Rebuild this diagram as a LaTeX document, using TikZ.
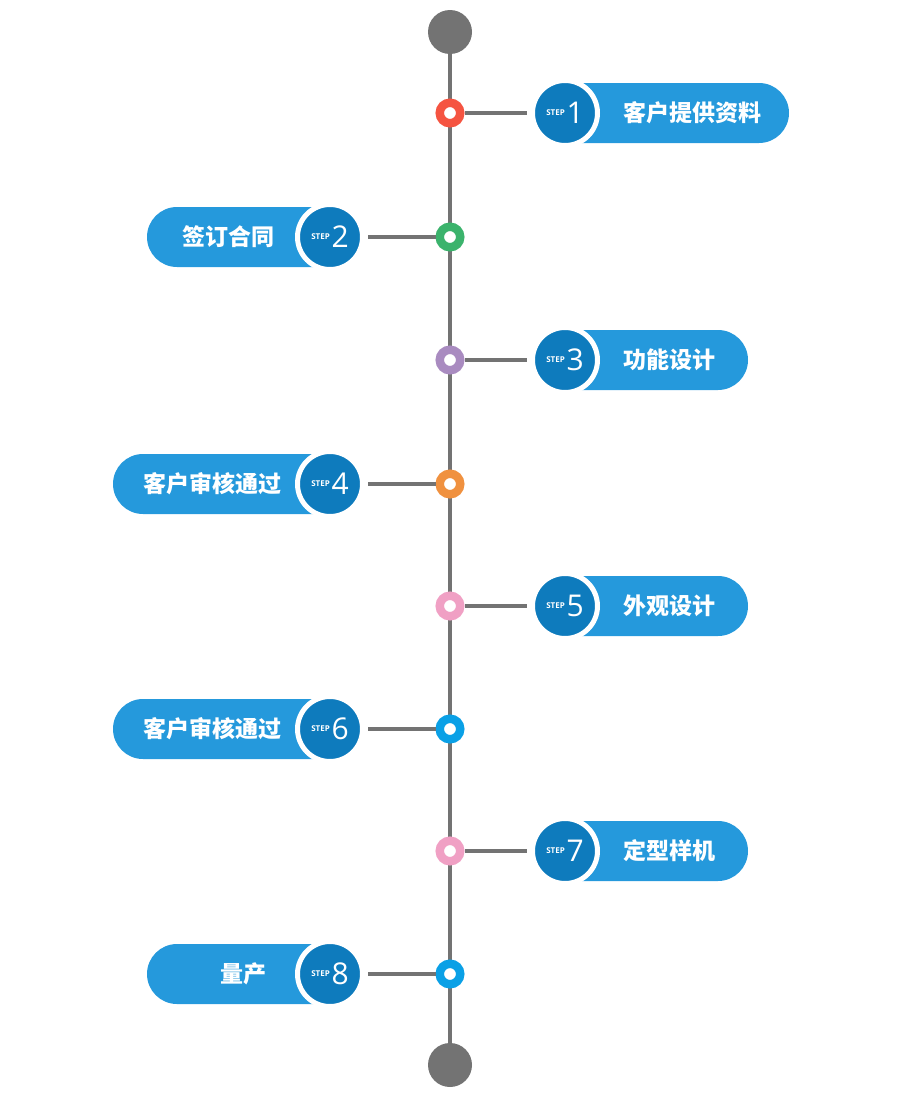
\documentclass[tikz,border=0pt]{standalone}
\usepackage{fontspec}
\newfontfamily\cjkfont{Noto Sans CJK SC}
\newfontfamily\numfont{Open Sans}
\definecolor{spinegray}{HTML}{737373}
\definecolor{pillblue}{HTML}{2599DC}
\definecolor{badgeblue}{HTML}{0E7BBD}
\definecolor{ringred}{HTML}{F55441}
\definecolor{ringgreen}{HTML}{3BB36C}
\definecolor{ringpurple}{HTML}{A98BC0}
\definecolor{ringorange}{HTML}{F0913F}
\definecolor{ringpink}{HTML}{F0A0C4}
\definecolor{ringcyan}{HTML}{0AA0E6}
\newcommand{\stepno}[1]{\raisebox{8pt}{\fontsize{8}{8}\selectfont\bfseries STEP}\,\fontsize{30}{30}\selectfont #1}
\tikzset{
spine/.style={draw=spinegray, line width=4pt},
endcap/.style={circle, fill=spinegray, minimum size=44pt, inner sep=0pt},
ring/.style={circle, draw=#1, fill=white, line width=8.5pt, minimum size=20.5pt, inner sep=0pt},
pill/.style={rectangle, rounded corners=30pt, fill=pillblue, minimum height=60pt, inner sep=0pt},
badge/.style={circle, fill=badgeblue, draw=white, line width=5pt, minimum size=65pt, inner sep=0pt, text=white, font=\numfont},
tasktext/.style={text=white, inner sep=0pt, font=\cjkfont\bfseries\fontsize{23}{23}\selectfont},
link/.style={draw=spinegray, line width=4pt, shorten >=3pt}
}
\begin{document}
\begin{tikzpicture}[x=1pt, y=-1pt]
\useasboundingbox (0,0) rectangle (900,1100);
% timeline
\node[endcap] (top) at (450,32) {};
\node[endcap] (bot) at (450,1065) {};
\draw[spine] (top) -- (bot);
% pills
\node[pill, minimum width=254pt] (p1) at (662,113) {};
\node[pill, minimum width=213pt] (p2) at (253.5,237) {};
\node[pill, minimum width=213pt] (p3) at (641.5,360) {};
\node[pill, minimum width=247pt] (p4) at (236.5,484) {};
\node[pill, minimum width=213pt] (p5) at (641.5,606) {};
\node[pill, minimum width=247pt] (p6) at (236.5,729) {};
\node[pill, minimum width=213pt] (p7) at (641.5,851) {};
\node[pill, minimum width=213pt] (p8) at (253.5,974) {};
% step badges
\node[badge] (b1) at (565,113) {\stepno{1}};
\node[badge] (b2) at (330,237) {\stepno{2}};
\node[badge] (b3) at (565,360) {\stepno{3}};
\node[badge] (b4) at (330,484) {\stepno{4}};
\node[badge] (b5) at (565,606) {\stepno{5}};
\node[badge] (b6) at (330,729) {\stepno{6}};
\node[badge] (b7) at (565,851) {\stepno{7}};
\node[badge] (b8) at (330,974) {\stepno{8}};
% rings on the line
\node[ring=ringred] (r1) at (450,113) {};
\node[ring=ringgreen] (r2) at (450,237) {};
\node[ring=ringpurple] (r3) at (450,360) {};
\node[ring=ringorange] (r4) at (450,484) {};
\node[ring=ringpink] (r5) at (450,606) {};
\node[ring=ringcyan] (r6) at (450,729) {};
\node[ring=ringpink] (r7) at (450,851) {};
\node[ring=ringcyan] (r8) at (450,974) {};
\draw[link] (r1) -- (b1);
\draw[link] (r2) -- (b2);
\draw[link] (r3) -- (b3);
\draw[link] (r4) -- (b4);
\draw[link] (r5) -- (b5);
\draw[link] (r6) -- (b6);
\draw[link] (r7) -- (b7);
\draw[link] (r8) -- (b8);
% labels
\node[tasktext] (t1) at (692.5,113) {客户提供资料};
\node[tasktext] (t2) at (228,237) {签订合同};
\node[tasktext] (t3) at (669,360) {功能设计};
\node[tasktext] (t4) at (212,484) {客户审核通过};
\node[tasktext] (t5) at (669,606) {外观设计};
\node[tasktext] (t6) at (212,729) {客户审核通过};
\node[tasktext] (t7) at (669,851) {定型样机};
\node[tasktext] (t8) at (243,974) {量产};
\end{tikzpicture}
\end{document}
